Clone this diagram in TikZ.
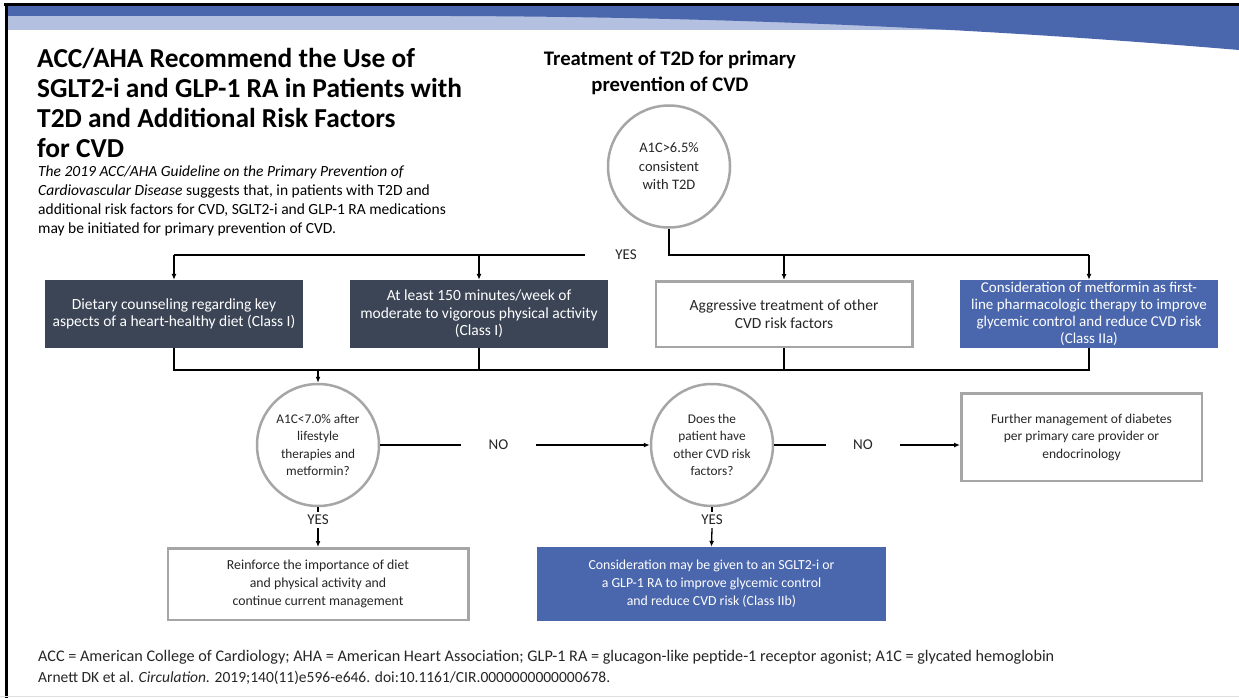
\documentclass[tikz,border=0pt]{standalone}
\usepackage{fontspec}
\setmainfont{Carlito}
\usetikzlibrary{arrows.meta}
\definecolor{slate}{HTML}{3B4556}
\definecolor{accblue}{HTML}{4A66AC}
\definecolor{lightband}{HTML}{B4C0E0}
\definecolor{ringgray}{HTML}{A6A6A6}
\definecolor{txtgray}{HTML}{262626}
\newcommand{\myfs}[2]{\fontsize{#1}{#2}\selectfont}
\begin{document}
\begin{tikzpicture}[x=1pt,y=-1pt,
  conn/.style={line width=1.3pt, draw=black},
  arr/.style={conn, -{Latex[length=6pt,width=5pt]}},
  ring/.style={circle, draw=ringgray, line width=2.5pt, fill=white, minimum size=122pt, inner sep=0pt, align=center, text=txtgray},
  darkbox/.style={fill=slate, text=white, minimum width=258pt, minimum height=68pt, align=center, inner sep=0pt, font=\myfs{15.5}{17.5}},
  bluebox/.style={fill=accblue, text=white, align=center, inner sep=0pt},
  whitebox/.style={draw=ringgray, line width=2.5pt, fill=white, align=center, inner sep=0pt, text=txtgray},
  lab/.style={fill=white, inner sep=0pt, font=\myfs{15}{17}, text=txtgray}
]
\useasboundingbox (0,0) rectangle (1239,698);
\fill[white] (0,0) rectangle (1239,698);
% banner
\fill[lightband] (7,16) rectangle (1239,30);
\fill[accblue] (7,6) -- (1239,6) -- (1239,50) .. controls (1000,30) and (750,17) .. (450,16) -- (7,16) -- cycle;
\fill[black] (4,3.5) rectangle (1239,6.5);
\fill[black] (4.5,3.5) rectangle (7.5,698);
\draw[black!12, line width=1pt] (0,696) -- (1239,696);

% texts
\node[anchor=north west, inner sep=0pt, align=left, font=\bfseries\myfs{27.4}{30}] (title) at (37,48)
  {ACC/AHA Recommend the Use of\\SGLT2-i and GLP-1 RA in Patients with\\T2D and Additional Risk Factors\\for CVD};
\node[anchor=north west, inner sep=0pt, align=left, font=\myfs{15.5}{18.7}] (sub) at (38,166)
  {\textit{The 2019 ACC/AHA Guideline on the Primary Prevention of}\\\textit{Cardiovascular Disease} suggests that, in patients with T2D and\\additional risk factors for CVD, SGLT2-i and GLP-1 RA medications\\may be initiated for primary prevention of CVD.};
\node[anchor=north, inner sep=0pt, align=center, font=\bfseries\myfs{20.7}{26}] (head) at (670,51)
  {Treatment of T2D for primary\\prevention of CVD};

% top circle
\node[ring, font=\myfs{14.5}{18.5}] (c1) at (669,166.5) {A1C>6.5\%\\consistent\\with T2D};

% first row boxes
\node[darkbox] (b1) at (174,314) {Dietary counseling regarding key\\aspects of a heart-healthy diet (Class I)};
\node[darkbox] (b2) at (479,314) {At least 150 minutes/week of\\moderate to vigorous physical activity\\(Class I)};
\node[whitebox, minimum width=256.5pt, minimum height=65.5pt, font=\myfs{15.5}{17.5}] (b3) at (784,314) {Aggressive treatment of other\\CVD risk factors};
\node[bluebox, minimum width=258pt, minimum height=68pt, font=\myfs{15}{17}] (b4) at (1089,314) {Consideration of metformin as first-\\line pharmacologic therapy to improve\\glycemic control and reduce CVD risk\\(Class IIa)};

% top bus
\coordinate (bus) at (0,255);
\node[lab, minimum width=82pt, minimum height=14pt] (yes1) at (626,255) {YES};
\draw[conn] (c1.south) |- (b4.north |- bus);
\draw[conn] (yes1.west) -- (b1.north |- bus);
\draw[arr] (b1.north |- bus) -- (b1.north);
\draw[arr] (b2.north |- bus) -- (b2.north);
\draw[arr] (b3.north |- bus) -- (b3.north);
\draw[arr] (b4.north |- bus) -- (b4.north);

% second row
\node[ring, font=\myfs{13.3}{17.5}] (c2) at (318,445) {A1C<7.0\% after\\lifestyle\\therapies and\\metformin?};
\node[ring, font=\myfs{13.3}{17.5}] (c3) at (712,445) {Does the\\patient have\\other CVD risk\\factors?};
\node[whitebox, minimum width=240.5pt, minimum height=87.5pt, font=\myfs{13.5}{17.5}] (f) at (1081.5,437) {Further management of diabetes\\per primary care provider or\\endocrinology};

% lower bus
\coordinate (low) at (0,370);
\draw[conn] (b1.south) -- (b1.south |- low) -- (b4.south |- low) -- (b4.south);
\draw[conn] (b2.south) -- (b2.south |- low);
\draw[conn] (b3.south) -- (b3.south |- low);
\draw[arr] (c2.north |- low) -- (c2.north);

% NO connectors
\node[lab, minimum width=75pt, minimum height=14pt] (no1) at (498.5,445) {NO};
\draw[conn] (c2.east) -- (no1.west);
\draw[arr] (no1.east) -- (c3.west);
\node[lab, minimum width=74pt, minimum height=14pt] (no2) at (863,445) {NO};
\draw[conn] (c3.east) -- (no2.west);
\draw[arr] (no2.east) -- (f.west |- no2.east);

% bottom row
\node[whitebox, minimum width=300.5pt, minimum height=71.5pt, font=\myfs{13.8}{18}] (r) at (318,584) {Reinforce the importance of diet\\and physical activity and\\continue current management};
\node[bluebox, minimum width=349pt, minimum height=74pt, font=\myfs{13.8}{18}] (s) at (711.5,584) {Consideration may be given to an SGLT2-i or\\a GLP-1 RA to improve glycemic control\\and reduce CVD risk (Class IIb)};
\node[lab, inner ysep=3pt] (yes2) at (318,520) {YES};
\node[lab, inner ysep=3pt] (yes3) at (712,520) {YES};
\draw[conn] (c2.south) -- (yes2.north);
\draw[arr] (yes2.south) -- (r.north);
\draw[conn] (c3.south) -- (yes3.north);
\draw[arr] (yes3.south) -- (s.north);

% footer
\node[anchor=base west, inner sep=0pt, font=\myfs{16.2}{18}, text=txtgray] (foot1) at (38,661)
  {ACC = American College of Cardiology; AHA = American Heart Association; GLP-1 RA = glucagon-like peptide-1 receptor agonist; A1C = glycated hemoglobin};
\node[anchor=base west, inner sep=0pt, font=\myfs{15.5}{18}, text=txtgray] (foot2) at (38,682)
  {Arnett DK et al. \textit{Circulation.} 2019;140(11)e596-e646. doi:10.1161/CIR.0000000000000678.};
\end{tikzpicture}
\end{document}
